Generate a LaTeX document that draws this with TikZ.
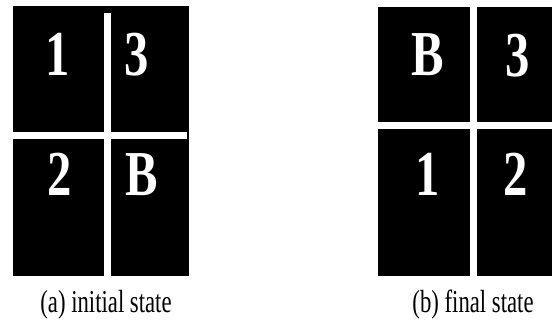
\documentclass[tikz,border=0pt]{standalone}
\usepackage{fontspec}
\setmainfont{Liberation Serif}
\definecolor{tileblack}{HTML}{000000}
\definecolor{gapwhite}{HTML}{FFFFFF}
\newcommand{\narrowtile}[1]{\scalebox{0.76}[1]{#1}}
\newcommand{\narrowcap}[1]{\scalebox{0.71}[1]{#1}}

\begin{document}
\begin{tikzpicture}[x=0.75pt, y=-0.75pt,
  tilelabel/.style={text=white, font=\fontsize{48}{52}\selectfont\bfseries, inner sep=0pt, anchor=base},
  caption/.style={font=\fontsize{24}{28}\selectfont, inner sep=0pt, anchor=base}]

\useasboundingbox (0,0) rectangle (552,325);

% (a) initial state: one black block, white lines drawn over it
\fill[tileblack] (13,6) rectangle (189,276);
\fill[gapwhite] (104,13) rectangle (111,276);
\fill[gapwhite] (13,132) rectangle (187,139);

\node[tilelabel] (a1) at (57.5,75) {\narrowtile{1}};
\node[tilelabel] (a3) at (136.5,75) {\narrowtile{3}};
\node[tilelabel] (a2) at (60,195) {\narrowtile{2}};
\node[tilelabel] (aB) at (142,195) {\narrowtile{B}};

\node[caption] (capa) at (106,312) {\narrowcap{(a) initial state}};

% (b) final state: four black tiles
\fill[tileblack] (378,7) rectangle (470,122);
\fill[tileblack] (477,7) rectangle (552,122);
\fill[tileblack] (378,129) rectangle (470,276);
\fill[tileblack] (477,129) rectangle (552,276);

\node[tilelabel] (bB) at (427.5,75) {\narrowtile{B}};
\node[tilelabel] (b3) at (517.5,76) {\narrowtile{3}};
\node[tilelabel] (b1) at (427.5,195) {\narrowtile{1}};
\node[tilelabel] (b2) at (516,195) {\narrowtile{2}};

\node[caption] (capb) at (473,312) {\narrowcap{(b) final state}};

\end{tikzpicture}
\end{document}
